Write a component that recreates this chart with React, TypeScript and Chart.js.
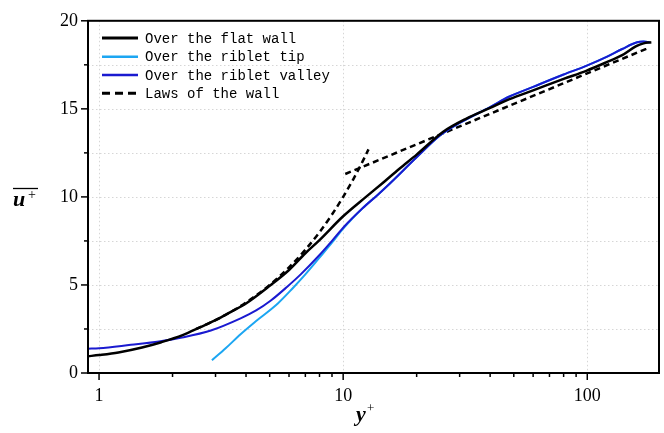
import React, { useEffect, useRef } from "react";
import { Chart, registerables } from "chart.js";

Chart.register(...registerables);

// ---- data ----
const seriesNames = ["Over the flat wall", "Over the riblet tip", "Over the riblet valley", "Laws of the wall"];

const flatX = [0.9, 1, 1.2, 1.5, 1.8, 2.2, 2.6, 3, 3.5, 4, 5, 6, 7, 8, 10, 12.4, 14.4, 17, 20, 25.7, 32, 40, 48, 60, 80, 99, 120, 139, 158, 170, 183];
const flatY = [0.95, 1.02, 1.17, 1.45, 1.75, 2.15, 2.6, 3.0, 3.5, 3.95, 4.95, 5.85, 6.8, 7.55, 8.9, 10.0, 10.75, 11.6, 12.4, 13.7, 14.45, 15.05, 15.55, 16.05, 16.7, 17.16, 17.65, 18.05, 18.55, 18.72, 18.78];

const tipX = [2.9, 3.3, 3.8, 4.4, 5.4, 6.2, 7, 8, 9, 10, 12, 13.8, 15.5, 20, 25, 30, 40, 48, 60, 80, 99, 120, 139, 160, 170, 180];
const tipY = [0.72, 1.4, 2.2, 2.95, 3.95, 4.8, 5.6, 6.55, 7.4, 8.2, 9.35, 10.1, 10.75, 12.25, 13.5, 14.2, 15.1, 15.7, 16.25, 16.95, 17.44, 17.95, 18.4, 18.78, 18.82, 18.78];

const valleyX = [0.9, 1, 1.35, 1.76, 2.16, 2.87, 3.8, 4.4, 5.04, 5.9, 6.7, 8, 9, 10, 12, 13.8, 15.5, 20, 25, 30, 40, 48, 60, 80, 99, 120, 139, 160, 170, 180];
const valleyY = [1.38, 1.4, 1.6, 1.79, 2.0, 2.41, 3.1, 3.55, 4.1, 4.9, 5.6, 6.7, 7.5, 8.25, 9.35, 10.1, 10.75, 12.25, 13.5, 14.2, 15.1, 15.7, 16.25, 16.95, 17.44, 17.95, 18.4, 18.78, 18.82, 18.78];

const viscousX = [2.5, 3, 3.5, 4, 5, 6, 7, 8, 9, 10, 11, 12, 12.7];
const viscousY = [2.5, 3, 3.5, 4, 5, 6, 7, 8, 9, 10, 11, 12, 12.7];

const logLawX = [10.2, 176];
const logLawY = [11.3, 18.43];

const xTickVals = [1, 2, 3, 4, 5, 6, 7, 8, 9, 10, 20, 30, 40, 50, 60, 70, 80, 90, 100];
const xMajor = [1, 10, 100];
const yTickVals = [0, 2.5, 5, 7.5, 10, 12.5, 15, 17.5, 20];

const colFlat = "#000000";
const colTip = "#1ca6f2";
const colValley = "#1a1ad0";

const pts = (xs: number[], ys: number[]) => xs.map((x, i) => ({ x, y: ys[i] }));

const legendItems = [
  { text: seriesNames[0], color: colFlat, width: 3, dash: [] as number[] },
  { text: seriesNames[1], color: colTip, width: 2.5, dash: [] as number[] },
  { text: seriesNames[2], color: colValley, width: 2.5, dash: [] as number[] },
  { text: seriesNames[3], color: colFlat, width: 3, dash: [8, 5] },
];

const framePlugin = {
  id: "frame",
  beforeDatasetsDraw(chart: any) {
    const { ctx, chartArea: a, scales } = chart;
    ctx.save();
    ctx.strokeStyle = "#d6d6d6";
    ctx.lineWidth = 1;
    ctx.setLineDash([1.5, 2.5]);
    for (const v of yTickVals) {
      if (v === 0 || v === 20) continue;
      const p = Math.round(scales.y.getPixelForValue(v)) + 0.5;
      ctx.beginPath();
      ctx.moveTo(a.left, p);
      ctx.lineTo(a.right, p);
      ctx.stroke();
    }
    for (const v of xMajor) {
      const p = Math.round(scales.x.getPixelForValue(v)) + 0.5;
      ctx.beginPath();
      ctx.moveTo(p, a.top);
      ctx.lineTo(p, a.bottom);
      ctx.stroke();
    }
    ctx.restore();
  },
  afterDraw(chart: any) {
    const { ctx, chartArea: a, scales } = chart;
    ctx.save();
    // frame
    ctx.strokeStyle = "#000";
    ctx.lineWidth = 2;
    ctx.strokeRect(a.left, a.top, a.right - a.left, a.bottom - a.top);
    // y ticks
    ctx.lineWidth = 1.5;
    for (const v of yTickVals) {
      const p = scales.y.getPixelForValue(v);
      const len = v % 5 === 0 ? 7 : 4;
      ctx.beginPath();
      ctx.moveTo(a.left - len, p);
      ctx.lineTo(a.left, p);
      ctx.stroke();
    }
    // x ticks
    for (const v of xTickVals) {
      const p = scales.x.getPixelForValue(v);
      const len = xMajor.includes(v) ? 7 : 4;
      ctx.beginPath();
      ctx.moveTo(p, a.bottom);
      ctx.lineTo(p, a.bottom + len);
      ctx.stroke();
    }
    // y title: overline u+
    ctx.fillStyle = "#000";
    ctx.textBaseline = "alphabetic";
    ctx.textAlign = "left";
    ctx.font = "bold italic 22px 'Liberation Serif', serif";
    ctx.fillText("u", 13, 206);
    ctx.font = "14px 'Liberation Serif', serif";
    ctx.fillText("+", 28, 199);
    ctx.lineWidth = 1.3;
    ctx.beginPath();
    ctx.moveTo(13, 188.5);
    ctx.lineTo(38, 188.5);
    ctx.stroke();
    // x title: y+
    ctx.font = "bold italic 22px 'Liberation Serif', serif";
    ctx.fillText("y", 356, 421);
    ctx.font = "13px 'Liberation Serif', serif";
    ctx.fillText("+", 367, 412);
    // legend
    ctx.font = "14px 'Liberation Mono', monospace";
    ctx.textBaseline = "middle";
    const rowY = [38, 56.7, 75, 93.3];
    legendItems.forEach((it, i) => {
      const y = rowY[i];
      ctx.strokeStyle = it.color;
      ctx.lineWidth = it.width;
      ctx.setLineDash(it.dash);
      ctx.beginPath();
      ctx.moveTo(102, y);
      ctx.lineTo(138, y);
      ctx.stroke();
      ctx.setLineDash([]);
      ctx.fillStyle = "#000";
      ctx.fillText(it.text, 145, y + 1);
    });
    ctx.restore();
  },
};

export default function App() {
  const ref = useRef<HTMLCanvasElement | null>(null);
  useEffect(() => {
    if (!ref.current) return;
    const common = { pointRadius: 0, fill: false, cubicInterpolationMode: "monotone" as const };
    const chart = new Chart(ref.current, {
      type: "line",
      data: {
        datasets: [
          { ...common, label: seriesNames[0], data: pts(flatX, flatY), borderColor: colFlat, borderWidth: 2.5, order: 0 },
          { ...common, label: seriesNames[2], data: pts(valleyX, valleyY), borderColor: colValley, borderWidth: 2, order: 1 },
          { ...common, label: seriesNames[1], data: pts(tipX, tipY), borderColor: colTip, borderWidth: 2, order: 2 },
          { ...common, label: seriesNames[3], data: pts(viscousX, viscousY), borderColor: colFlat, borderWidth: 2.5, borderDash: [6, 4], order: 3 },
          { ...common, label: "", data: pts(logLawX, logLawY), borderColor: colFlat, borderWidth: 2.5, borderDash: [6, 4], order: 3 },
        ],
      },
      options: {
        responsive: false,
        animation: false,
        layout: { padding: { top: 16, right: 5, left: 0, bottom: 0 } },
        plugins: { legend: { display: false }, tooltip: { enabled: false } },
        scales: {
          x: {
            type: "logarithmic",
            min: 0.901,
            max: 196.7,
            afterBuildTicks: (s: any) => {
              s.ticks = xTickVals.map((v) => ({ value: v }));
            },
            afterFit: (s: any) => {
              s.height = 60;
            },
            ticks: {
              autoSkip: false,
              maxRotation: 0,
              padding: 12,
              color: "#000",
              font: { family: "'Liberation Serif', serif", size: 18 },
              callback: (v: any) => (xMajor.includes(Number(v)) ? String(v) : ""),
            },
            grid: { display: false, drawTicks: false },
            border: { display: false },
          },
          y: {
            min: 0,
            max: 20,
            afterFit: (s: any) => {
              s.width = 88;
            },
            ticks: {
              stepSize: 5,
              padding: 10,
              color: "#000",
              font: { family: "'Liberation Serif', serif", size: 18 },
            },
            grid: { display: false, drawTicks: false },
            border: { display: false },
          },
        },
      },
      plugins: [framePlugin],
    });
    return () => chart.destroy();
  }, []);
  return (
    <div style={{ position: "fixed", left: 0, top: 0, width: 664, height: 433, background: "#fff" }}>
      <canvas ref={ref} width={664} height={433} style={{ display: "block" }} />
    </div>
  );
}
